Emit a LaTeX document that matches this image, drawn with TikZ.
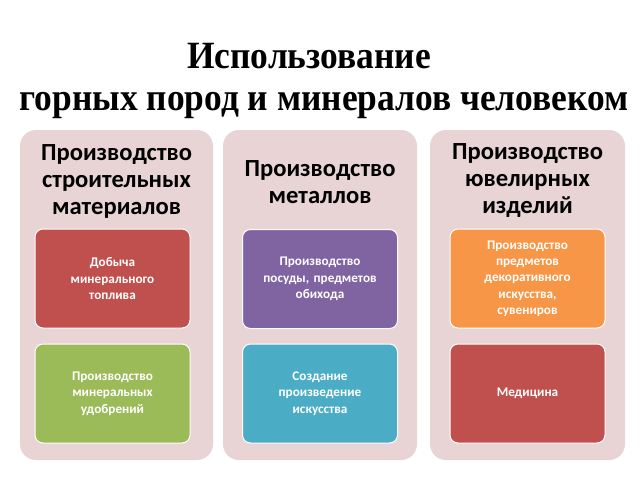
\documentclass[tikz,border=0pt]{standalone}
\usepackage{fontspec}
\setmainfont{Liberation Serif}
\newfontfamily\calfont{Carlito}
\definecolor{panelbg}{HTML}{E8D4D4}
\definecolor{cred}{HTML}{C0504D}
\definecolor{cpurple}{HTML}{8064A2}
\definecolor{corange}{HTML}{F79646}
\definecolor{cgreen}{HTML}{9BBB59}
\definecolor{ccyan}{HTML}{4BACC6}
\tikzset{
  panel/.style={fill=panelbg, draw=none, rounded corners=16pt},
  inbox/.style={draw=white, line width=1pt, rounded corners=8pt, minimum width=155pt, minimum height=99pt, text width=150pt, align=center, text=white, font=\calfont\bfseries\fontsize{13.2}{16.3}\selectfont, inner sep=0pt},
  head/.style={align=center, font=\calfont\bfseries\fontsize{24.6}{27}\selectfont, text=black},
  ttl/.style={font=\bfseries\fontsize{35.4}{40}\selectfont, text=black, anchor=base, inner sep=0pt}
}
\begin{document}
\begin{tikzpicture}[x=1pt,y=-1pt]
\useasboundingbox (0,0) rectangle (640,480);
\fill[white] (0,0) rectangle (640,480);
\node[ttl] (t1) at (309,68) {\scalebox{1}[1.09]{Использование}};
\node[ttl] (t2) at (324,110) {\scalebox{1}[1.09]{горных пород и минералов человеком}};
% panels
\fill[panel] (20,130) rectangle (213,460);
\fill[panel] (223,130) rectangle (417,460);
\fill[panel] (430,130) rectangle (625,460);
\node[head] (h1) at (116.5,181) {Производство\\строительных\\материалов};
\node[head] (h2) at (320,182) {Производство\\металлов};
\node[head] (h3) at (527.5,181) {Производство\\ювелирных\\изделий};
% inner boxes
\node[inbox, fill=cred] (b11) at (112.5,278.5) {Добыча\\минерального\\топлива};
\node[inbox, fill=cgreen] (b12) at (112.5,393.5) {Производство\\минеральных\\удобрений};
\node[inbox, fill=cpurple] (b21) at (320,279) {Производство\\посуды, предметов\\обихода};
\node[inbox, fill=ccyan] (b22) at (320,393.5) {Создание\\произведение\\искусства};
\node[inbox, fill=corange] (b31) at (527.5,278.5) {Производство\\предметов\\декоративного\\искусства,\\сувениров};
\node[inbox, fill=cred] (b32) at (527.5,393.5) {Медицина};
\end{tikzpicture}
\end{document}
